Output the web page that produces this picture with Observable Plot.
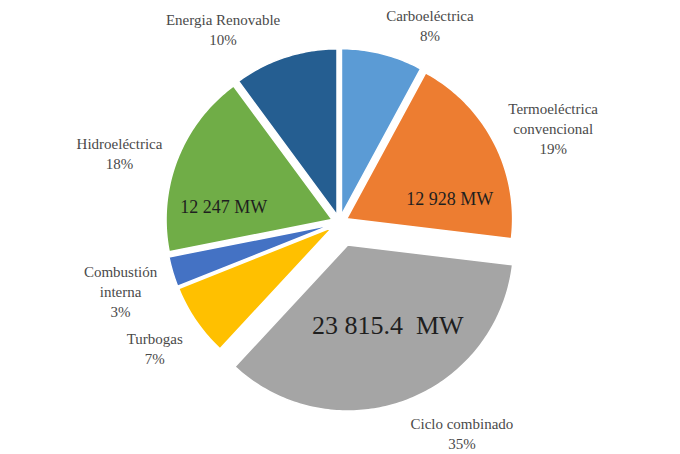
<!DOCTYPE html>
<html>
<head>
<meta charset="utf-8">
<script src="https://cdn.jsdelivr.net/npm/d3@7"></script>
<script src="https://cdn.jsdelivr.net/npm/@observablehq/plot@0.6"></script>
<style>
  html, body { margin: 0; padding: 0; background: #ffffff; }
  #chart svg { display: block; }
  #chart svg text { font-family: "Liberation Serif", "Times New Roman", serif; }
</style>
</head>
<body>
<div id="chart"></div>
<script>
// Capacidad instalada por tecnología (MW), en el orden de las rebanadas a partir de las 12 en punto
const categories = [
  "Carboeléctrica",
  "Termoeléctrica convencional",
  "Ciclo combinado",
  "Turbogas",
  "Combustión interna",
  "Hidroeléctrica",
  "Energia Renovable"
];
const labelLines = [
  ["Carboeléctrica"],
  ["Termoeléctrica", "convencional"],
  ["Ciclo combinado"],
  ["Turbogas"],
  ["Combustión", "interna"],
  ["Hidroeléctrica"],
  ["Energia Renovable"]
];
const capacityMW = [5378, 12928, 23815.4, 4800, 2000, 12247, 6875.6];
const showValue = [false, true, true, false, false, true, false];
const colors = ["#5b9bd5", "#ed7d31", "#a5a5a5", "#ffc000", "#4472c4", "#70ad47", "#255e91"];

// Layout
const W = 680, H = 454;
const cx = 339, cy = 222;       // centre of the pie in the SVG
const R = 166;                  // radius
const maxValue = d3.max(capacityMW);
const explode = v => (v === maxValue ? 24 : 8);
const total = d3.sum(capacityMW);
const serif = "Liberation Serif";
const lineStep = 20;

const mw = d3.formatLocale({decimal: ".", thousands: " ", grouping: [3]}).format(",");

// measure label widths for the outside labels
const ctx = document.createElement("canvas").getContext("2d");
ctx.font = `15px "${serif}"`;
const textWidth = s => ctx.measureText(s).width;

const arcs = d3.pie().sort(null).value(d => d)(capacityMW);

const features = [];
const outer = [];
const inner = [];
arcs.forEach((a, i) => {
  const v = capacityMW[i];
  const mid = (a.startAngle + a.endAngle) / 2;
  const dx = Math.sin(mid), dy = -Math.cos(mid);
  const e = explode(v);
  const ax = e * dx, ay = e * dy;             // apex of the exploded slice
  const ring = [[ax, ay]];
  const n = Math.max(8, Math.ceil((a.endAngle - a.startAngle) / (Math.PI / 180)));
  for (let k = 0; k <= n; ++k) {
    const t = a.startAngle + (a.endAngle - a.startAngle) * k / n;
    ring.push([ax + R * Math.sin(t), ay - R * Math.cos(t)]);
  }
  ring.push([ax, ay]);
  features.push({
    type: "Feature",
    properties: {category: categories[i]},
    geometry: {type: "Polygon", coordinates: [ring]}
  });

  // outside label: category name and share, kept inside the frame
  const lines = [...labelLines[i], Math.round(v / total * 100) + "%"];
  const w = d3.max(lines, textWidth);
  const h = lines.length * lineStep;
  const px = ax + (R + 16) * dx, py = ay + (R + 16) * dy;
  const yTop = -cy + h / 2 + 2, yBottom = H - cy - h / 2 - 2;
  outer.push({
    x: px + Math.sign(dx) * w / 2,
    y: Math.max(yTop, Math.min(yBottom, py + dy * h / 2 + 6)),
    text: lines.join("\n")
  });

  // inside label: capacity in MW
  if (showValue[i]) {
    inner.push({
      x: ax + 0.7 * R * dx,
      y: ay + 0.55 * R * dy * Math.abs(dy),
      text: mw(v) + (v === maxValue ? "\u00a0 MW" : " MW"),
      size: v === maxValue ? 26 : 18
    });
  }
});

const frame = {type: "MultiPoint", coordinates: [[-cx, -cy], [W - cx, H - cy]]};

const chart = Plot.plot({
  width: W,
  height: H,
  margin: 0,
  style: {background: "#ffffff", fontFamily: serif},
  projection: {type: "identity", domain: frame},
  color: {domain: categories, range: colors},
  marks: [
    Plot.geo(features, {
      fill: d => d.properties.category,
      stroke: "#ffffff",
      strokeWidth: 1.5,
      strokeLinejoin: "round"
    }),
    Plot.text(outer, {
      x: "x", y: "y", text: "text",
      fontSize: 15,
      lineHeight: lineStep / 15,
      lineAnchor: "middle",
      textAnchor: "middle",
      fontFamily: serif,
      fill: "#4a4a4a"
    }),
    Plot.text(inner, {
      x: "x", y: "y", text: "text",
      fontSize: d => d.size,
      lineAnchor: "middle",
      textAnchor: "middle",
      fontFamily: serif,
      fill: "#1f1f1f"
    })
  ]
});

document.getElementById("chart").appendChild(chart);
</script>
</body>
</html>
